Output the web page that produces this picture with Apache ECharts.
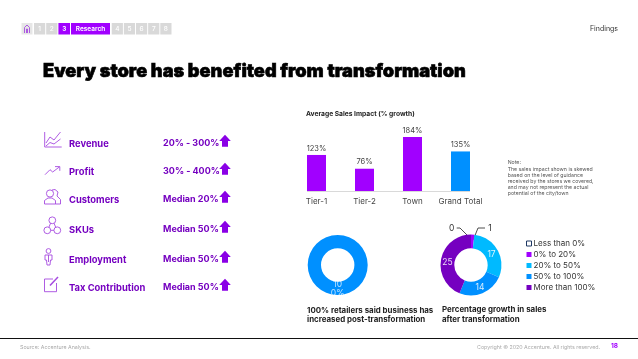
<!DOCTYPE html>
<html>
<head>
<meta charset="utf-8">
<style>
  html, body { margin: 0; padding: 0; background: #fff; }
  #chart { width: 638px; height: 359px; }
</style>
<script src="https://cdn.jsdelivr.net/npm/echarts@6/dist/echarts.min.js"></script>
</head>
<body>
<div id="chart"></div>
<script>
/* data */
const barCategories = ['Tier-1', 'Tier-2', 'Town', 'Grand Total'];
const barValues = [123, 76, 184, 135];
const retailerValues = [100];
const growthCategories = ['Less than 0%', '0% to 20%', '20% to 50%', '50% to 100%', 'More than 100%'];
const growthValues = [0, 1, 17, 14, 25];
const metricNames = ['Revenue', 'Profit', 'Customers', 'SKUs', 'Employment', 'Tax Contribution'];
const metricValues = ['20% - 300%', '30% - 400%', 'Median 20%', 'Median 50%', 'Median 50%', 'Median 50%'];
const navBefore = ['1', '2'];
const navAfter = ['4', '5', '6', '7', '8'];
const noteLines = [
    'The sales impact shown is skewed',
    'based on the level of guidance',
    'received by the stores we covered,',
    'and may not represent the actual',
    'potential of the city/town'
];

/* colours */
const PURPLE = '#a100ff';
const BLUE = '#0090ff';
const SKY = '#00baff';
const DEEP = '#7500c0';
const LABEL = '#7500c0';
const ICON = '#a64be0';
const FONT = 'Inter, "Noto Sans", sans-serif';

const metricRows = [143.7, 171.7, 199.7, 229.7, 259.7, 287.7];
/* small nudges of the labels sitting on the ring */
const ringLabelNudge = [null, null, [-2.5, 2.5], [-1, -2.5], [2.5, 2.5]];

function text (x, y, str, size, color, weight, align) {
    return {
        type: 'text',
        x: x,
        y: y,
        silent: true,
        style: {
            text: str,
            fill: color,
            font: (weight || 400) + ' ' + size + 'px ' + FONT,
            textAlign: align || 'left',
            textVerticalAlign: 'middle'
        }
    };
}
function box (x, w, color) {
    return { type: 'rect', silent: true, shape: { x: x, y: 23, width: w, height: 11.5 }, style: { fill: color } };
}
function poly (points, close) {
    return {
        type: close ? 'polygon' : 'polyline',
        silent: true,
        shape: { points: points },
        style: { stroke: ICON, fill: 'none', lineWidth: 0.9 }
    };
}
function ring (cx, cy, r) {
    return { type: 'circle', silent: true, shape: { cx: cx, cy: cy, r: r }, style: { stroke: ICON, fill: 'none', lineWidth: 0.9 } };
}

/* header strip */
const navItems = [
    box(21.5, 11, '#e6e6e6'),
    poly([[24.5, 33], [24.5, 27.5], [27, 25], [29.5, 27.5], [29.5, 33]]),
    poly([[26.5, 33], [26.5, 29], [27.5, 29], [27.5, 33]])
];
navBefore.forEach((n, i) => {
    navItems.push(box(34 + i * 12.2, 11.2, '#d9d9d9'));
    navItems.push(text(39.6 + i * 12.2, 28.9, n, 6.5, '#fff', 500, 'center'));
});
navItems.push(box(58.4, 11.6, PURPLE), text(64.2, 28.9, '3', 6.5, '#fff', 600, 'center'));
navItems.push(box(71, 39, PURPLE), text(90.5, 28.9, 'Research', 6.5, '#fff', 600, 'center'));
navAfter.forEach((n, i) => {
    navItems.push(box(111.7 + i * 12.15, 11.2, '#d9d9d9'));
    navItems.push(text(117.3 + i * 12.15, 28.9, n, 6.5, '#fff', 500, 'center'));
});

/* left hand icons */
const icons = [
    poly([[44.7, 132], [44.7, 147], [61.7, 147]]),
    poly([[46, 143], [50, 137], [54, 140], [58, 135], [60.5, 132]]),
    poly([[46, 146], [50, 142.5], [54, 144], [60.5, 139]]),
    poly([[45, 174.7], [50, 169.7], [52.7, 172], [59.3, 167]]),
    poly([[55, 166.6], [59.8, 166.6], [59.8, 170.8]]),
    ring(50, 193.5, 3.6),
    poly([[44.5, 204], [44.5, 200.5], [48, 198], [52, 198], [55.5, 200.5], [55.5, 204]], true),
    poly([[52, 190], [55, 189.5], [58, 192], [57, 196], [60.5, 199.5], [60.5, 204], [55.5, 204]]),
    ring(52.3, 220.3, 3.4),
    ring(47.3, 230.3, 3.4),
    ring(57.3, 230.3, 3.4),
    poly([[50.6, 223.2], [48.9, 227.2]]),
    poly([[54, 223.2], [55.7, 227.2]]),
    poly([[50.7, 230.3], [53.9, 230.3]]),
    ring(48.5, 251, 2.4),
    poly([[45, 255], [52, 255], [52, 260], [50.5, 260], [50, 265], [47, 265], [46.5, 260], [45, 260]], true),
    poly([[48.5, 255], [48.5, 262]]),
    poly([[53, 279], [44.5, 279], [44.5, 291.7], [56.5, 291.7], [56.5, 283]]),
    { type: 'line', silent: true, shape: { x1: 50, y1: 285.5, x2: 58, y2: 277 }, style: { stroke: ICON, lineWidth: 1.5 } }
];

/* metric rows */
const metricItems = [];
metricNames.forEach((name, i) => {
    const y = metricRows[i];
    metricItems.push(text(69, y, name, 9.4, LABEL, 700));
    metricItems.push(text(163, y, metricValues[i], 9, LABEL, 700));
    const top = y - 9;
    metricItems.push({
        type: 'polygon',
        silent: true,
        shape: { points: [[225, top], [230.8, top + 6.2], [228, top + 6.2], [228, top + 12], [222, top + 12], [222, top + 6.2], [219.2, top + 6.2]] },
        style: { fill: '#8a00e6' }
    });
});

const noteItems = [text(507.7, 162, 'Note:', 5.2, '#555')];
noteLines.forEach((line, i) => {
    noteItems.push(text(507.7, 169 + i * 6.2, line, 5.2, '#555'));
});

const heading = text(43, 72, 'Every store has benefited from transformation', 18.2, '#000', 900);
heading.style.stroke = '#000';
heading.style.lineWidth = 0.6;

const option = {
    animation: false,
    backgroundColor: '#fff',
    textStyle: { fontFamily: FONT },
    grid: { left: 292.5, top: 132.4, width: 192, height: 58.6 },
    xAxis: {
        type: 'category',
        data: barCategories,
        axisLine: { show: false },
        axisTick: { show: false },
        axisLabel: { color: '#444', fontSize: 8, margin: 7, interval: 0 }
    },
    yAxis: { type: 'value', min: 0, max: 200, show: false },
    legend: {
        data: growthCategories.map((name, i) => ({
            name: name,
            itemStyle: i === 0 ? { color: '#fff', borderColor: '#1f3864', borderWidth: 1 } : undefined
        })),
        orient: 'vertical',
        left: 526,
        top: 238,
        padding: 0,
        itemGap: 0,
        itemWidth: 5,
        itemHeight: 5,
        icon: 'rect',
        selectedMode: false,
        textStyle: { color: '#333', fontSize: 8, lineHeight: 11, padding: [0, 0, 0, -3] }
    },
    series: [
        {
            type: 'bar',
            data: barValues,
            barWidth: 19,
            silent: true,
            itemStyle: { color: (p) => (p.dataIndex === barValues.length - 1 ? BLUE : PURPLE) },
            label: { show: true, position: 'top', distance: 2.5, color: '#444', fontSize: 7.5, formatter: '{c}%' }
        },
        {
            type: 'pie',
            center: [337.7, 265],
            radius: [16.7, 30],
            startAngle: 90,
            silent: true,
            data: retailerValues,
            itemStyle: { color: BLUE },
            label: {
                show: true,
                position: 'inside',
                color: 'rgba(255,255,255,0.75)',
                fontSize: 8.5,
                lineHeight: 9,
                formatter: () => '10\n0%'
            },
            labelLine: { show: false },
            labelLayout: () => ({ dy: -2 })
        },
        {
            type: 'pie',
            center: [471, 265],
            radius: [16.7, 30.5],
            startAngle: 90,
            silent: true,
            data: growthCategories.map((name, i) => ({
                name: name,
                value: growthValues[i],
                itemStyle: { color: ['#fff', PURPLE, SKY, BLUE, DEEP][i] },
                label: { position: i < 2 ? 'outside' : 'inside', color: i < 2 ? '#333' : 'rgba(255,255,255,0.85)' }
            })),
            label: { show: true, fontSize: 8.5, formatter: '{c}' },
            labelLine: { show: true, lineStyle: { color: '#222', width: 0.8 } },
            labelLayout: (p) => {
                if (p.dataIndex === 0) {
                    return { x: 451.7, y: 228, align: 'center', verticalAlign: 'middle',
                        labelLinePoints: [[456.7, 228], [460, 228], [471.7, 239.7]] };
                }
                if (p.dataIndex === 1) {
                    return { x: 490, y: 228, align: 'center', verticalAlign: 'middle',
                        labelLinePoints: [[485, 228], [478, 228], [473.3, 239.7]] };
                }
                const n = ringLabelNudge[p.dataIndex];
                return { dx: n[0], dy: n[1] };
            }
        }
    ],
    graphic: { elements: [].concat(
        navItems,
        [
            text(618, 28.6, 'Findings', 7, '#333', 400, 'right'),
            heading
        ],
        icons,
        metricItems,
        [
            text(306, 113.5, 'Average Sales Impact (% growth)', 6.7, '#222', 700),
            { type: 'line', silent: true, shape: { x1: 307, y1: 191.5, x2: 470, y2: 191.5 }, style: { stroke: '#d9d9d9', lineWidth: 1 } }
        ],
        noteItems,
        [
            text(307, 311, '100% retailers said business has', 7.9, '#222', 700),
            text(307, 320, 'increased post-transformation', 7.9, '#222', 700),
            text(442, 310, 'Percentage growth in sales', 7.9, '#222', 700),
            text(442, 320, 'after transformation', 7.9, '#222', 700),
            { type: 'line', silent: true, shape: { x1: 0, y1: 338.5, x2: 638, y2: 338.5 }, style: { stroke: '#111', lineWidth: 1 } },
            text(20, 347, 'Source: Accenture Analysis.', 5.3, '#aaa'),
            text(600, 347, 'Copyright \u00a9 2020 Accenture. All rights reserved.', 5.3, '#aaa', 400, 'right'),
            text(618, 346.5, '18', 6.5, PURPLE, 700, 'right')
        ]
    ) }
};

const myChart = echarts.init(document.getElementById('chart'), null, { renderer: 'canvas' });
myChart.setOption(option);
</script>
</body>
</html>
